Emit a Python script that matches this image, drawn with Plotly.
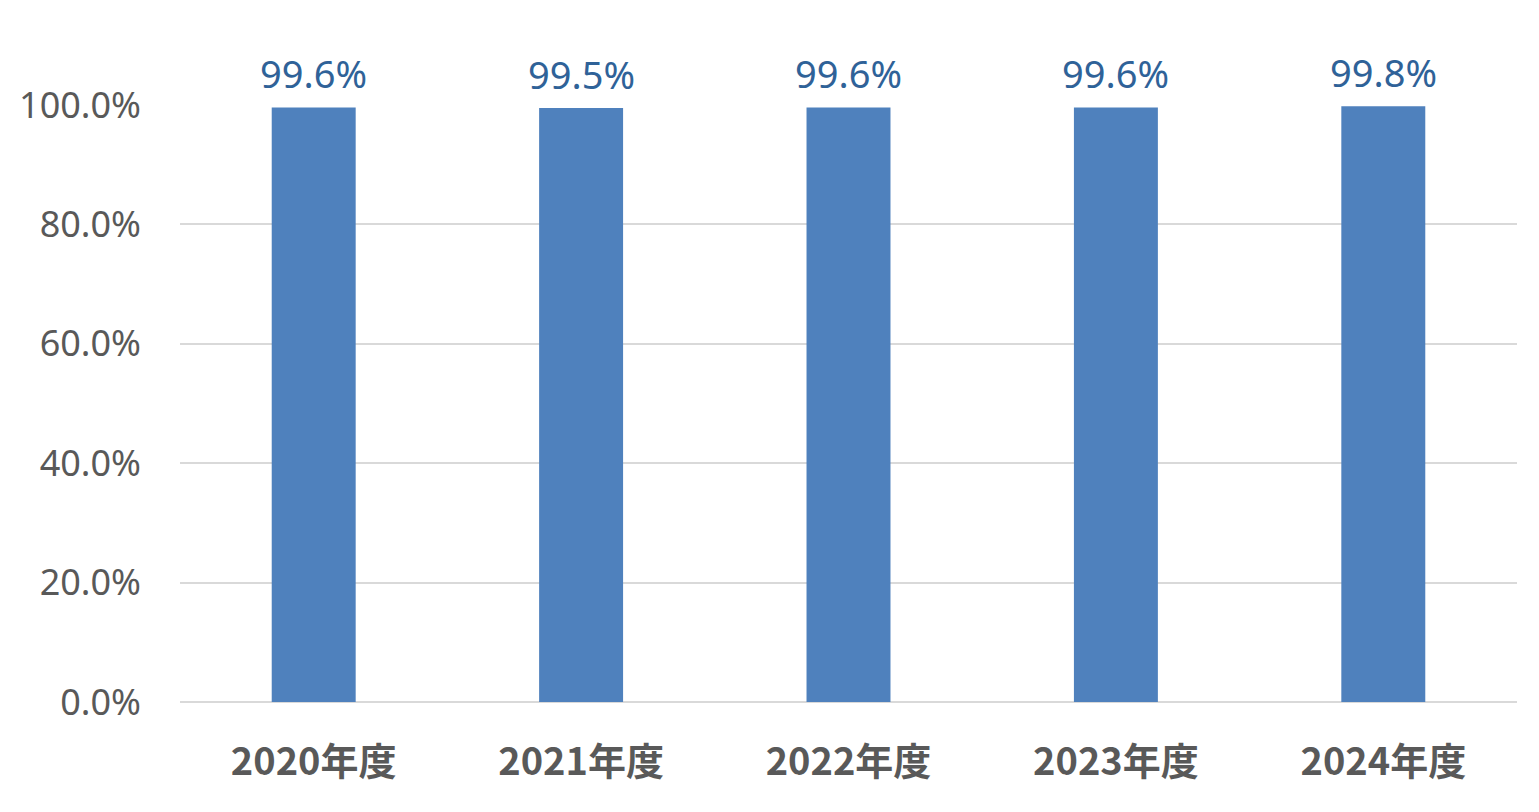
import plotly.graph_objects as go

years = ["2020年度", "2021年度", "2022年度", "2023年度", "2024年度"]
rates = [99.6, 99.5, 99.6, 99.6, 99.8]
tick_vals = [0, 20, 40, 60, 80, 100]
tick_text = ["0.0%", "20.0%", "40.0%", "60.0%", "80.0%", "100.0%"]

fig = go.Figure()

fig.add_trace(
    go.Bar(
        x=years,
        y=rates,
        marker=dict(color="#4F81BD", line=dict(width=0)),
        cliponaxis=False,
    )
)

# value labels above the bars
for yr, v in zip(years, rates):
    fig.add_annotation(
        x=yr,
        y=v,
        text=f"{v:.1f}%",
        showarrow=False,
        yanchor="bottom",
        yshift=6,
        font=dict(family="Noto Sans", size=38, color="#2F6298"),
    )

# page body has an 8px margin, so the margins are shifted by that
fig.update_layout(
    width=1539,
    height=812,
    margin=dict(l=172, r=30, t=97, b=118),
    plot_bgcolor="white",
    paper_bgcolor="white",
    bargap=0.686,
    showlegend=False,
)

fig.update_xaxes(
    tickfont=dict(family="Noto Sans CJK JP", size=38, color="#595959", weight="bold"),
    ticks="",
    showline=False,
    showgrid=False,
    ticklabelstandoff=34,
    automargin=False,
)

fig.update_yaxes(
    range=[0, 100],
    tickvals=tick_vals,
    ticktext=tick_text,
    tickfont=dict(family="Noto Sans", size=36, color="#595959"),
    showgrid=True,
    gridcolor="#D9D9D9",
    gridwidth=2,
    zeroline=True,
    zerolinecolor="#D9D9D9",
    zerolinewidth=2,
    ticks="",
    ticklabelstandoff=38,
    automargin=False,
)

fig.write_html("out.html")
